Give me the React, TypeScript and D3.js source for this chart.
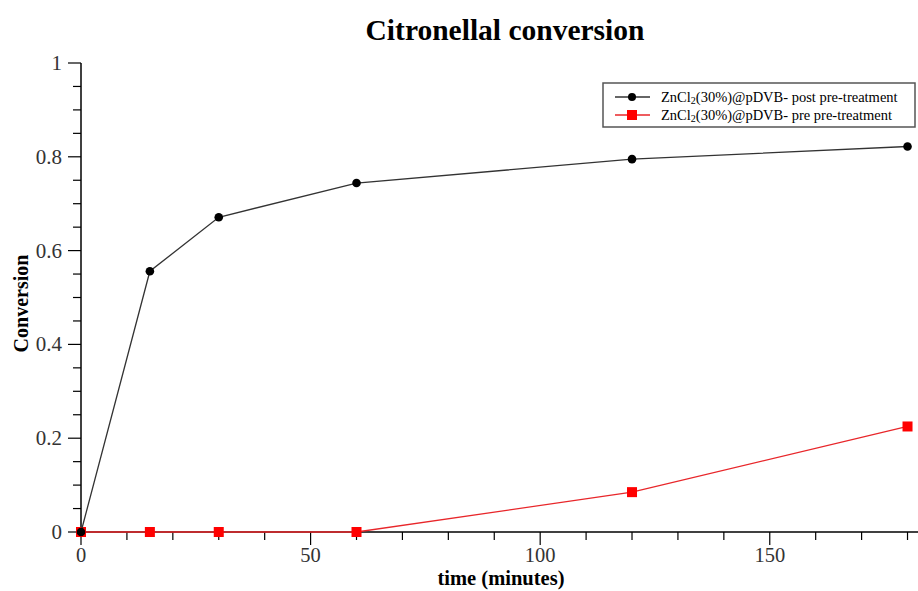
import React from "react";
import * as d3 from "d3";

const times = [0, 15, 30, 60, 120, 180];
const postValues = [0, 0.556, 0.671, 0.744, 0.795, 0.822];
const preValues = [0, 0, 0, 0, 0.085, 0.225];
const xTicks = [0, 50, 100, 150];
const yTicks = [0, 0.2, 0.4, 0.6, 0.8, 1];

const W = 918;
const H = 591;
const font = "'Liberation Serif', 'Times New Roman', serif";

export default function App() {
  const x = d3.scaleLinear().domain([0, 182.5]).range([81, 919]);
  const y = d3.scaleLinear().domain([0, 1]).range([532, 63]);
  const line = d3
    .line<[number, number]>()
    .x((d) => x(d[0]))
    .y((d) => y(d[1]));
  const post: [number, number][] = times.map((t, i) => [t, postValues[i]]);
  const pre: [number, number][] = times.map((t, i) => [t, preValues[i]]);
  const xMinor = d3.range(0, 181, 10).filter((v) => v % 50 !== 0);
  const yMinor = d3.range(0, 1.0001, 0.05).filter((v) => Math.abs(v * 5 - Math.round(v * 5)) > 1e-6);

  return (
    <svg
      width={W}
      height={H}
      style={{ position: "absolute", left: 0, top: 0, background: "#fff" }}
      fontFamily={font}
    >
      <rect width={W} height={H} fill="#fff" />
      <text x={505} y={40} textAnchor="middle" fontSize={29.5} fontWeight="bold" fill="#000">
        Citronellal conversion
      </text>
      {/* axes */}
      <line x1={81} x2={81} y1={y(1)} y2={y(0)} stroke="#000" strokeWidth={1.5} />
      <line x1={81} x2={W} y1={y(0)} y2={y(0)} stroke="#000" strokeWidth={1.5} />
      {yTicks.map((v) => (
        <g key={"yt" + v}>
          <line x1={68} x2={81} y1={y(v)} y2={y(v)} stroke="#000" strokeWidth={1.2} />
          <text x={62} y={y(v) + 7} textAnchor="end" fontSize={21} fill="#333">
            {v === 0 ? "0" : v === 1 ? "1" : v.toFixed(1)}
          </text>
        </g>
      ))}
      {yMinor.map((v) => (
        <line key={"ym" + v} x1={73} x2={81} y1={y(v)} y2={y(v)} stroke="#000" strokeWidth={1.2} />
      ))}
      {xTicks.map((v) => (
        <g key={"xt" + v}>
          <line x1={x(v)} x2={x(v)} y1={y(0)} y2={y(0) + 13} stroke="#000" strokeWidth={1.2} />
          <text x={x(v)} y={y(0) + 30} textAnchor="middle" fontSize={20.5} fill="#333">
            {v}
          </text>
        </g>
      ))}
      {xMinor.map((v) => (
        <line key={"xm" + v} x1={x(v)} x2={x(v)} y1={y(0)} y2={y(0) + 8} stroke="#000" strokeWidth={1.2} />
      ))}
      <text x={501} y={585} textAnchor="middle" fontSize={20.5} fontWeight="bold" fill="#000">
        time (minutes)
      </text>
      <text
        transform={`translate(28,${(y(0) + y(1)) / 2 + 6}) rotate(-90)`}
        textAnchor="middle"
        fontSize={20}
        fontWeight="bold"
        fill="#000"
      >
        Conversion
      </text>
      {/* series */}
      <path d={line(pre) || ""} fill="none" stroke="#e8262a" strokeWidth={1.3} />
      {pre.map((d, i) => (
        <rect key={"pr" + i} x={x(d[0]) - 5} y={y(d[1]) - 5} width={10} height={10} fill="#f00" />
      ))}
      <path d={line(post) || ""} fill="none" stroke="#333" strokeWidth={1.3} />
      {post.map((d, i) => (
        <circle key={"po" + i} cx={x(d[0])} cy={y(d[1])} r={4.3} fill="#000" />
      ))}
      {/* legend */}
      <rect x={603} y={83} width={312} height={44} fill="#fff" stroke="#555" strokeWidth={1.5} />
      <line x1={615} x2={650} y1={97} y2={97} stroke="#333" strokeWidth={1.3} />
      <circle cx={632} cy={97} r={4} fill="#000" />
      <text x={661} y={102} fontSize={14.5} fill="#000">
        ZnCl<tspan fontSize={10} dy={2}>2</tspan>
        <tspan dy={-2}>(30%)@pDVB- post pre-treatment</tspan>
      </text>
      <line x1={615} x2={650} y1={115} y2={115} stroke="#e8262a" strokeWidth={1.3} />
      <rect x={627} y={110} width={10} height={10} fill="#f00" />
      <text x={661} y={120} fontSize={14.5} fill="#000">
        ZnCl<tspan fontSize={10} dy={2}>2</tspan>
        <tspan dy={-2}>(30%)@pDVB- pre pre-treatment</tspan>
      </text>
    </svg>
  );
}
